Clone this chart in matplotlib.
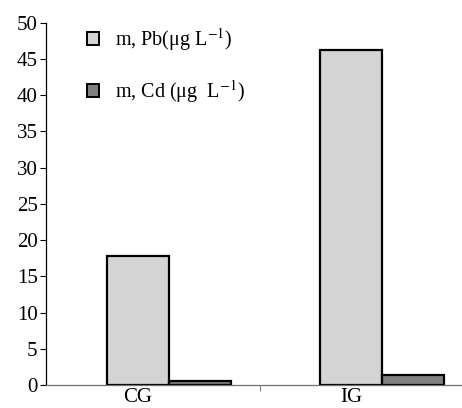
import matplotlib
matplotlib.use("Agg")
import matplotlib.pyplot as plt
import numpy as np
from matplotlib.patches import Patch

plt.rcParams['font.family'] = ['Liberation Serif', 'DejaVu Serif']
plt.rcParams['mathtext.fontset'] = 'stix'

categories = ["CG", "IG"]
pb_values = [17.8, 46.2]
cd_values = [0.55, 1.4]
series_labels = ["m, Pb(μg L$^{-1}$)", "m, Cd (μg  L$^{-1}$)"]
yticks = [0, 5, 10, 15, 20, 25, 30, 35, 40, 45, 50]

fig = plt.figure(figsize=(4.62, 4.08), dpi=100)
ax = fig.add_axes([46/462, 23/408, 1 - 46/462, (385 - 22.7)/408])

x = np.arange(len(categories))
w = 0.289
ax.bar(x - w/2, pb_values, w, color='#d4d4d4', edgecolor='black', linewidth=1.6, zorder=3)
ax.bar(x + w/2, cd_values, w, color='#808080', edgecolor='black', linewidth=1.6, zorder=3)

ax.set_xlim(-0.5775, 1.3756)
ax.set_ylim(0, 50)
ax.set_yticks(yticks)
ax.tick_params(axis='y', direction='out', length=4, width=0.8, labelsize=15, pad=2)

ax.set_xticks(x - 0.146)
ax.set_xticklabels(categories)
ax.tick_params(axis='x', length=0, labelsize=15, pad=2)
ax.set_xticks([0.427], minor=True)
ax.tick_params(axis='x', which='minor', direction='out', length=4.5, width=0.8, color='#808080')

for s in ['top', 'right']:
    ax.spines[s].set_visible(False)
ax.spines['left'].set_linewidth(0.9)
ax.spines['bottom'].set_color('#707070')
ax.spines['bottom'].set_linewidth(0.9)
ax.spines['bottom'].set_zorder(4)

handles = [Patch(facecolor='#d4d4d4', edgecolor='black', linewidth=1.4),
           Patch(facecolor='#808080', edgecolor='black', linewidth=1.4)]
ax.legend(handles, series_labels, loc='upper left', bbox_to_anchor=(0.055, 1.04),
          frameon=False, fontsize=14.5, handlelength=0.6, handleheight=0.6,
          labelspacing=1.25, handletextpad=0.8)

fig.savefig("out.png", dpi=100)
